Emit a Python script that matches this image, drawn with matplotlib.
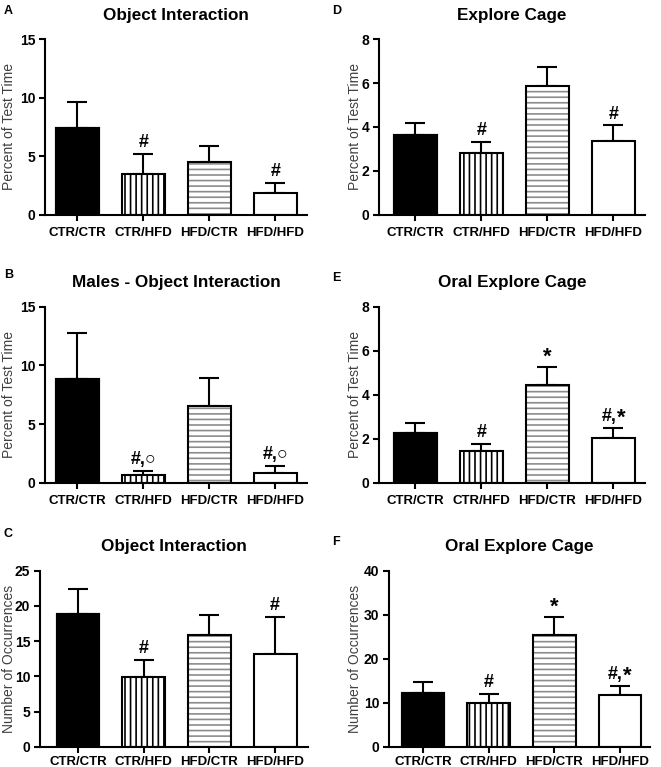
import matplotlib
matplotlib.use('Agg')
import matplotlib.pyplot as plt

plt.rcParams['font.family'] = ['Liberation Sans', 'DejaVu Sans']
plt.rcParams['hatch.linewidth'] = 1.2

groups = ['CTR/CTR', 'CTR/HFD', 'HFD/CTR', 'HFD/HFD']

# mean values and upper SEM
a_mean = [7.45, 3.5, 4.5, 1.9]
a_err = [2.15, 1.7, 1.35, 0.85]
b_mean = [8.85, 0.65, 6.55, 0.8]
b_err = [3.9, 0.32, 2.4, 0.6]
c_mean = [18.9, 9.9, 15.9, 13.2]
c_err = [3.5, 2.4, 2.8, 5.2]
d_mean = [3.62, 2.8, 5.85, 3.35]
d_err = [0.55, 0.5, 0.9, 0.72]
e_mean = [2.25, 1.42, 4.45, 2.03]
e_err = [0.46, 0.35, 0.83, 0.47]
f_mean = [12.2, 10.0, 25.4, 11.7]
f_err = [2.6, 1.9, 4.1, 2.2]

a_marks = ['', '#', '', '#']
b_marks = ['', '#,\u25cb', '', '#,\u25cb']
c_marks = ['', '#', '', '#']
d_marks = ['', '#', '', '#']
e_marks = ['', '#', '*', '#,*']
f_marks = ['', '#', '*', '#,*']

W, H = 661, 767
fig = plt.figure(figsize=(W / 100, H / 100), dpi=100)


def axes_px(left, right, top, bottom):
    return fig.add_axes([left / W, 1 - bottom / H, (right - left) / W, (bottom - top) / H])


def mark(ax, xi, y, s):
    kw = dict(textcoords='offset points', va='baseline', fontweight='bold')
    if s == '*':
        ax.annotate('*', (xi, y), xytext=(0, 2.7), ha='center', fontsize=16, **kw)
    elif s.endswith(',*'):
        ax.annotate(s[:-1], (xi, y), xytext=(2.3, 5), ha='right', fontsize=13, **kw)
        ax.annotate('*', (xi, y), xytext=(2.3, 2.7), ha='left', fontsize=16, **kw)
    else:
        ax.annotate(s, (xi, y), xytext=(0, 5), ha='center', fontsize=13, **kw)


def panel(ax, means, errs, marks, title, ylabel, ymax, ystep, xlim, labx, xpad=5):
    x = list(range(len(groups)))
    w = 0.65
    # bar fills
    ax.bar(x[0], means[0], w, color='black', edgecolor='black', linewidth=1.5, zorder=2)
    ax.bar(x[1], means[1], w, color='white', edgecolor='black', hatch='|||', linewidth=0, zorder=2)
    ax.bar(x[2], means[2], w, color='white', edgecolor='#8c8c8c', hatch='---', linewidth=0, zorder=2)
    ax.bar(x[3], means[3], w, color='white', linewidth=0, zorder=2)
    # outlines
    ax.bar(x, means, w, fill=False, edgecolor='black', linewidth=1.5, zorder=3)
    ax.errorbar(x, means, yerr=[[0] * len(x), errs], fmt='none', ecolor='black',
                elinewidth=1.5, capsize=7.5, capthick=1.5, zorder=1)
    for xi, m, e, s in zip(x, means, errs, marks):
        if s:
            mark(ax, xi, m + e, s)
    ax.set_xlim(*xlim)
    ax.set_ylim(0, ymax)
    ax.set_yticks(range(0, ymax + 1, ystep))
    ax.set_xticks(x)
    ax.set_xticklabels(groups, fontsize=9.5, fontweight='bold')
    for lab in ax.get_yticklabels():
        lab.set_fontweight('bold')
        lab.set_fontsize(10)
    ax.tick_params(axis='both', direction='out', length=4, width=1.5, pad=3, colors='black')
    ax.tick_params(axis='x', pad=xpad)
    for sp in ['top', 'right']:
        ax.spines[sp].set_visible(False)
    for sp in ['left', 'bottom']:
        ax.spines[sp].set_linewidth(1.5)
    ax.set_title(title, fontsize=12.3, fontweight='bold', pad=14)
    ax.set_ylabel(ylabel, fontsize=10, color='#404040')
    ax.yaxis.set_label_coords(labx, 0.5)


ax_a = axes_px(45, 307, 39, 215)
ax_b = axes_px(45, 307, 306.7, 482.7)
ax_c = axes_px(40, 308, 570.7, 746.7)
ax_d = axes_px(379, 645, 39, 215)
ax_e = axes_px(379, 645, 306.7, 482.7)
ax_f = axes_px(389, 650, 570.7, 746.7)

panel(ax_a, a_mean, a_err, a_marks, 'Object Interaction', 'Percent of Test Time', 15, 5, (-0.49, 3.48), -0.111)
panel(ax_b, b_mean, b_err, b_marks, 'Males - Object Interaction', 'Percent of Test Time', 15, 5, (-0.49, 3.48), -0.111)
panel(ax_c, c_mean, c_err, c_marks, 'Object Interaction', 'Number of Occurrences', 25, 5, (-0.58, 3.5), -0.09, xpad=3)
panel(ax_d, d_mean, d_err, d_marks, 'Explore Cage', 'Percent of Test Time', 8, 2, (-0.55, 3.48), -0.064)
panel(ax_e, e_mean, e_err, e_marks, 'Oral Explore Cage', 'Percent of Test Time', 8, 2, (-0.55, 3.48), -0.064)
panel(ax_f, f_mean, f_err, f_marks, 'Oral Explore Cage', 'Number of Occurrences', 40, 10, (-0.52, 3.46), -0.103, xpad=3)

letters = [('A', 4, 14), ('B', 4, 278), ('C', 4, 537), ('D', 332, 14), ('E', 332, 281), ('F', 332, 545)]
for s, px, py in letters:
    fig.text(px / W, 1 - py / H, s, fontsize=9, fontweight='bold', ha='left', va='baseline')

fig.savefig('out.png', dpi=100)
